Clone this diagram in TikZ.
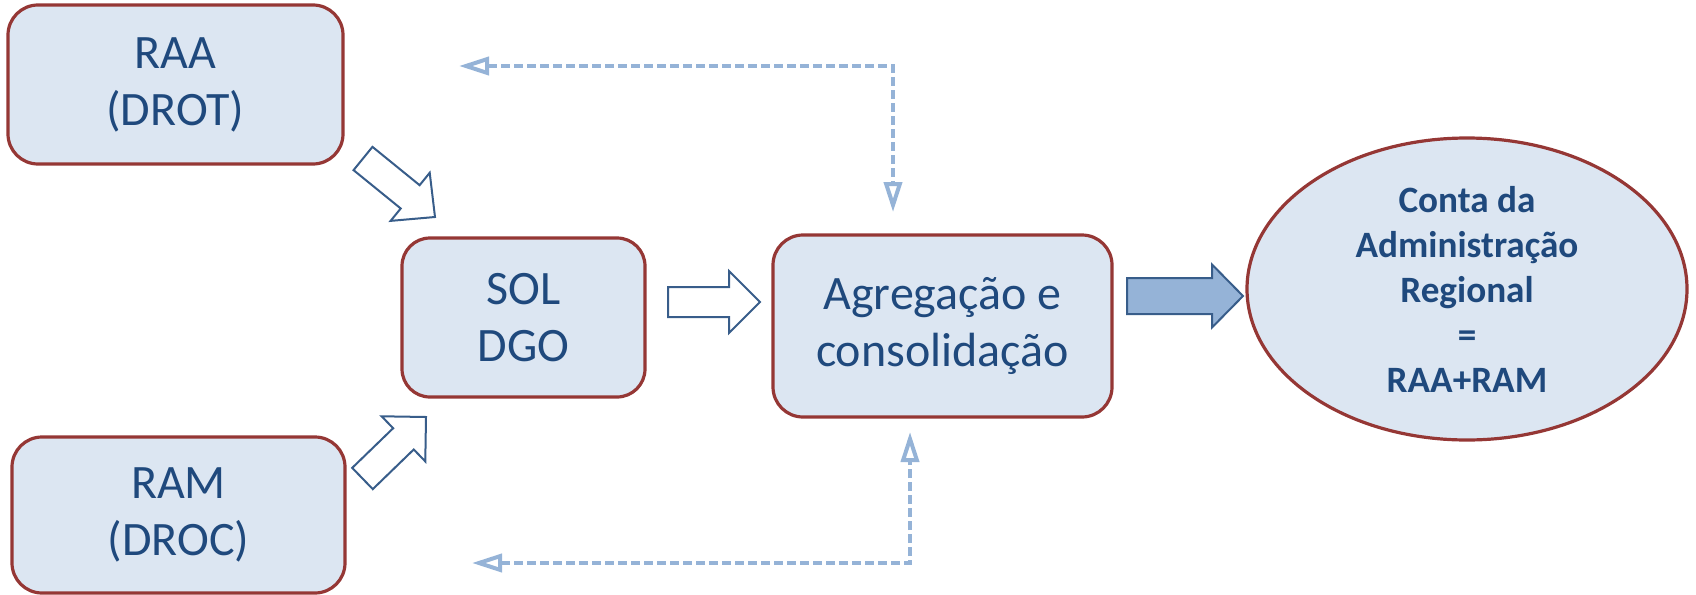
\documentclass[tikz,border=0pt]{standalone}
\usepackage{fontspec}
\setmainfont{Carlito}
\usetikzlibrary{calc,shapes.geometric,arrows.meta}
\definecolor{boxfill}{HTML}{DCE6F2}
\definecolor{boxline}{HTML}{953735}
\definecolor{txtblue}{HTML}{1F497D}
\definecolor{arrline}{HTML}{385D8A}
\definecolor{arrfill}{HTML}{95B3D7}
\newcommand\blockarr[6]{%
  \coordinate (hb) at ($(#2)!#5!(#1)$);
  \draw[#6] ($(#1)!#3!90:(#2)$) -- ($(hb)!#3!90:(#2)$) -- ($(hb)!#4!90:(#2)$)
    -- (#2) -- ($(hb)!#4!-90:(#2)$) -- ($(hb)!#3!-90:(#2)$) -- ($(#1)!#3!-90:(#2)$) -- cycle;}
\begin{document}
\begin{tikzpicture}[x=0.5pt,y=-0.5pt,
  rbox/.style={draw=boxline,fill=boxfill,line width=1.6pt,rounded corners=15pt,
    inner sep=0pt,align=center,text=txtblue,font=\fontsize{24}{28.5}\selectfont},
  ovalbox/.style={ellipse,draw=boxline,fill=boxfill,line width=1.6pt,inner sep=0pt,
    align=center,text=txtblue,font=\bfseries\fontsize{18.6}{22.5}\selectfont},
  hollowarr/.style={draw=arrline,fill=white,line width=1pt,line join=miter},
  fullarr/.style={draw=arrline,fill=arrfill,line width=1pt,line join=miter},
  dasharr/.style={draw=arrfill,line width=2pt,dash pattern=on 4.5pt off 2pt,
    {Triangle[open,length=15pt,width=9pt]}-{Triangle[open,length=15pt,width=9pt]}}]
\useasboundingbox (0,0) rectangle (1696,594);
\node[rbox,minimum width=167.5pt,minimum height=79.5pt] (raa) at (175.5,84.5) {RAA\\(DROT)};
\node[rbox,minimum width=166.5pt,minimum height=78pt] (ram) at (178.5,515) {RAM\\(DROC)};
\node[rbox,minimum width=121.5pt,minimum height=79.5pt,rounded corners=14pt] (sol) at (523.5,317.5) {SOL\\DGO};
\node[rbox,minimum width=169.5pt,minimum height=91pt] (agr) at (942.5,326) {Agregação e\\consolidação};
\node[ovalbox,minimum width=220pt,minimum height=151pt] (conta) at (1467,289)
  {Conta da\\Administração\\Regional\\=\\RAA+RAM};
% block arrows
\coordinate (a1t) at (363,158.5); \coordinate (a1p) at (435,217);
\blockarr{a1t}{a1p}{7.5pt}{15.5pt}{16pt}{hollowarr}
\coordinate (a2t) at (362.5,478.5); \coordinate (a2p) at (426,417);
\blockarr{a2t}{a2p}{7.4pt}{15.7pt}{15.7pt}{hollowarr}
\coordinate (a3t) at (668,302); \coordinate (a3p) at (760,302);
\blockarr{a3t}{a3p}{7.5pt}{15.5pt}{15.5pt}{hollowarr}
\coordinate (a4t) at (1127,296); \coordinate (a4p) at (1243,296);
\blockarr{a4t}{a4p}{9pt}{15.75pt}{15.5pt}{fullarr}
% dashed feedback arrows
\coordinate (d1a) at (459,66); \coordinate (d1c) at (893,66); \coordinate (d1b) at (893,212);
\draw[dasharr] (d1a) -- (d1c) -- (d1b);
\coordinate (d2a) at (472,563); \coordinate (d2c) at (910,563); \coordinate (d2b) at (910,432);
\draw[dasharr] (d2a) -- (d2c) -- (d2b);
\end{tikzpicture}
\end{document}
